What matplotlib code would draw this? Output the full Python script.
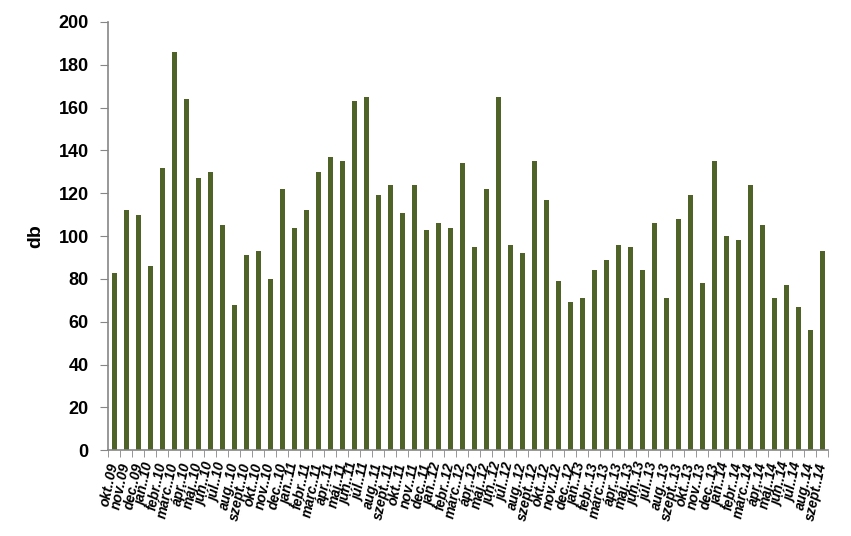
import matplotlib.pyplot as plt
import numpy as np

plt.rcParams["font.family"] = ["Liberation Sans", "DejaVu Sans"]

months = ["okt.", "nov.", "dec.", "jan.", "febr.", "márc.", "ápr.", "máj.",
          "jún.", "júl.", "aug.", "szept."]
years = ["09"] * 3 + ["10"] * 12 + ["11"] * 12 + ["12"] * 12 + ["13"] * 12 + ["14"] * 9

labels = []
for i, yr in enumerate(years):
    labels.append(f"{months[i % 12]}.{yr}")

values = [83, 112, 110, 86, 132, 186, 164, 127, 130, 105, 68, 91,
          93, 80, 122, 104, 112, 130, 137, 135, 163, 165, 119, 124,
          111, 124, 103, 106, 104, 134, 95, 122, 165, 96, 92, 135,
          117, 79, 69, 71, 84, 89, 96, 95, 84, 106, 71, 108,
          119, 78, 135, 100, 98, 124, 105, 71, 77, 67, 56, 93]

bar_color = "#4F6228"
axis_color = "#868686"

fig = plt.figure(figsize=(8.51, 5.36), dpi=100)
ax = fig.add_axes([0.127, 0.160, 0.846, 0.799])

x = np.arange(len(values))
ax.bar(x, values, width=0.42, color=bar_color, zorder=2)

ax.set_xlim(-0.5, len(values) - 0.5)
ax.set_ylim(0, 200)
ax.set_yticks(np.arange(0, 201, 20))
ax.tick_params(axis="y", labelsize=13, length=6, color=axis_color, pad=8)
for t in ax.get_yticklabels():
    t.set_fontweight("bold")

ax.set_xticks(x)
ax.set_xticklabels(labels, rotation=78, rotation_mode="anchor",
                   ha="right", va="center", fontsize=10,
                   fontweight="bold", style="italic")
ax.tick_params(axis="x", which="major", length=0, pad=9)
ax.set_xticks(np.arange(-0.5, len(values), 1), minor=True)
ax.tick_params(axis="x", which="minor", length=5, color=axis_color)

for s in ["top", "right"]:
    ax.spines[s].set_visible(False)
for s in ["left", "bottom"]:
    ax.spines[s].set_color(axis_color)
    ax.spines[s].set_linewidth(1.2)

ax.set_ylabel("db", fontsize=14, fontweight="bold", labelpad=10)

fig.savefig("out.png", dpi=100)
